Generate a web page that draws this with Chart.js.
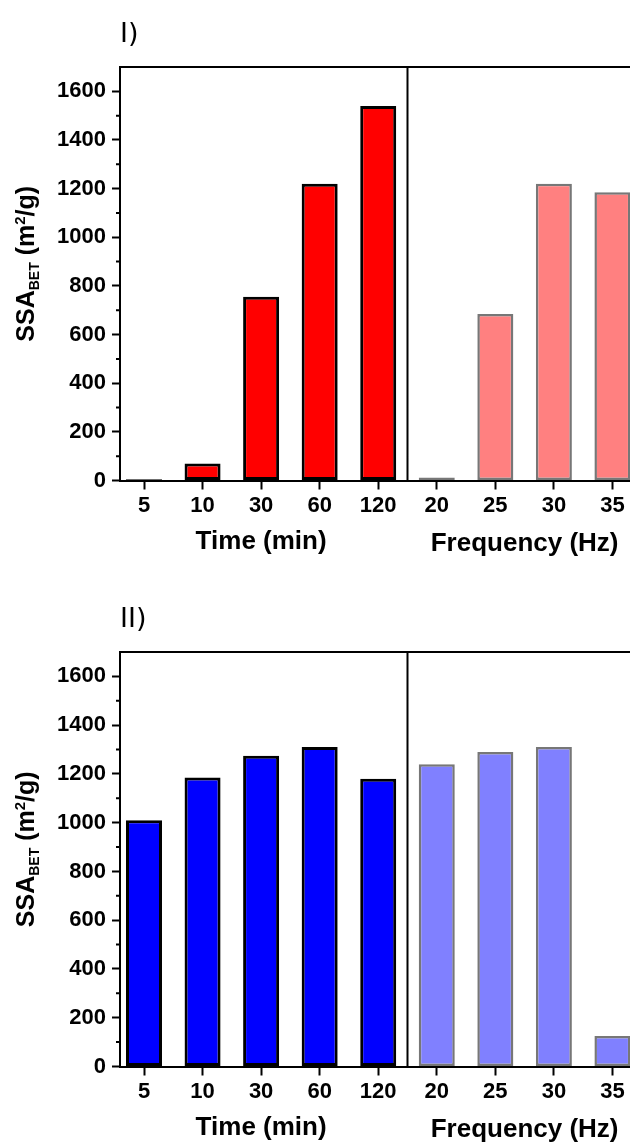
<!DOCTYPE html>
<html>
<head>
<meta charset="utf-8">
<script src="https://cdn.jsdelivr.net/npm/chart.js@4.4.1/dist/chart.umd.min.js"></script>
<style>
  html, body { margin: 0; padding: 0; background: #fff; overflow: hidden; }
  #wrap { position: relative; width: 630px; height: 1142px; }
  canvas { position: absolute; left: 0; }
  #panel1 { top: 0; }
  #panel2 { top: 585px; }
</style>
</head>
<body>
<div id="wrap">
  <canvas id="panel1" width="630" height="585"></canvas>
  <canvas id="panel2" width="630" height="557"></canvas>
</div>
<script>
// categories
const timeLabels = ['5', '10', '30', '60', '120'];
const freqLabels = ['20', '25', '30', '35'];
const yTicks = [0, 200, 400, 600, 800, 1000, 1200, 1400, 1600];

// SSA_BET values (m2/g)
const timeSSA_I = [5, 70, 755, 1220, 1540];
const freqSSA_I = [12, 685, 1220, 1185];
const timeSSA_II = [1010, 1185, 1275, 1310, 1180];
const freqSSA_II = [1240, 1290, 1310, 125];

const allLabels = timeLabels.concat(freqLabels);
const FONT = '"Liberation Sans", Arial, sans-serif';

// frame, minor ticks, panel label and the axis titles
const decorations = {
  id: 'decorations',
  afterDraw(chart, args, opts) {
    const { ctx, chartArea: a, scales: { x, y } } = chart;
    ctx.save();
    ctx.strokeStyle = '#000';
    ctx.lineWidth = 2;
    ctx.beginPath();
    ctx.moveTo(a.left - 1, a.top);
    ctx.lineTo(a.right, a.top);
    const sep = x.getPixelForValue(timeLabels.length - 0.5);
    ctx.moveTo(sep, a.top);
    ctx.lineTo(sep, a.bottom);
    for (let v = 100; v < 1700; v += 200) {
      const py = y.getPixelForValue(v);
      ctx.moveTo(a.left - 4, py);
      ctx.lineTo(a.left, py);
    }
    ctx.stroke();

    ctx.fillStyle = '#000';
    ctx.font = '27px "DejaVu Sans", sans-serif';
    ctx.textAlign = 'left';
    ctx.textBaseline = 'alphabetic';
    ctx.fillText(opts.label, a.left, 42);

    // x titles under each group
    ctx.font = 'bold 26px ' + FONT;
    ctx.textAlign = 'center';
    ctx.fillText('Time (min)', x.getPixelForValue((timeLabels.length - 1) / 2), a.bottom + 68);
    ctx.fillText('Frequency (Hz)', x.getPixelForValue(timeLabels.length + (freqLabels.length - 1) / 2), a.bottom + 70);

    // y title: SSA_BET (m^2/g)
    const parts = [
      { t: 'SSA', size: 25, dy: 0 },
      { t: 'BET', size: 14, dy: 5 },
      { t: ' (m', size: 25, dy: 0 },
      { t: '2', size: 15, dy: -9 },
      { t: '/g)', size: 25, dy: 0 }
    ];
    let total = 0;
    parts.forEach(p => { ctx.font = 'bold ' + p.size + 'px ' + FONT; p.w = ctx.measureText(p.t).width; total += p.w; });
    ctx.translate(34, (a.top + a.bottom) / 2 - 10);
    ctx.rotate(-Math.PI / 2);
    ctx.textAlign = 'left';
    let cx = -total / 2;
    parts.forEach(p => {
      ctx.font = 'bold ' + p.size + 'px ' + FONT;
      ctx.fillText(p.t, cx, p.dy);
      cx += p.w;
    });
    ctx.restore();
  }
};

function makePanel(id, label, timeVals, freqVals, dark, light, xHeight) {
  const ctx = document.getElementById(id).getContext('2d');
  return new Chart(ctx, {
    type: 'bar',
    data: {
      datasets: [{
        data: timeVals.map((v, i) => ({ x: i, y: v })),
        backgroundColor: dark,
        borderColor: '#000',
        borderWidth: 3
      }, {
        data: freqVals.map((v, i) => ({ x: timeLabels.length + i, y: v })),
        backgroundColor: light,
        borderColor: 'rgba(85,85,85,0.8)',
        borderWidth: 2.5
      }]
    },
    options: {
      responsive: false,
      animation: false,
      devicePixelRatio: 1,
      layout: { padding: { top: 67, left: 0, right: 0, bottom: 0 } },
      datasets: {
        bar: { grouped: false, barPercentage: 0.615, categoryPercentage: 1, borderSkipped: false }
      },
      plugins: {
        legend: { display: false },
        tooltip: { enabled: false },
        decorations: { label: label }
      },
      scales: {
        x: {
          type: 'linear',
          offset: false,
          min: -0.41,
          max: 8.3,
          afterFit(s) { s.height = xHeight; },
          afterBuildTicks(s) { s.ticks = allLabels.map((_, i) => ({ value: i })); },
          grid: { offset: false, drawOnChartArea: false, tickLength: 9, tickColor: '#000', tickWidth: 2 },
          border: { color: '#000', width: 2 },
          ticks: {
            color: '#000', padding: 3, autoSkip: false, maxRotation: 0,
            font: { family: FONT, size: 22, weight: 'bold' },
            callback: (v) => allLabels[v]
          }
        },
        y: {
          min: 0,
          max: 1700,
          afterFit(s) { s.width = 120; },
          afterBuildTicks(s) { s.ticks = yTicks.map(v => ({ value: v })); },
          grid: { drawOnChartArea: false, tickLength: 8, tickColor: '#000', tickWidth: 2 },
          border: { color: '#000', width: 2 },
          ticks: {
            color: '#000', padding: 6,
            font: { family: FONT, size: 22, weight: 'bold' },
            callback: (v) => String(v)
          }
        }
      }
    },
    plugins: [decorations]
  });
}

makePanel('panel1', 'I)', timeSSA_I, freqSSA_I, '#ff0000', '#ff8080', 104.5);
makePanel('panel2', 'II)', timeSSA_II, freqSSA_II, '#0000ff', '#8080ff', 75.5);
</script>
</body>
</html>
